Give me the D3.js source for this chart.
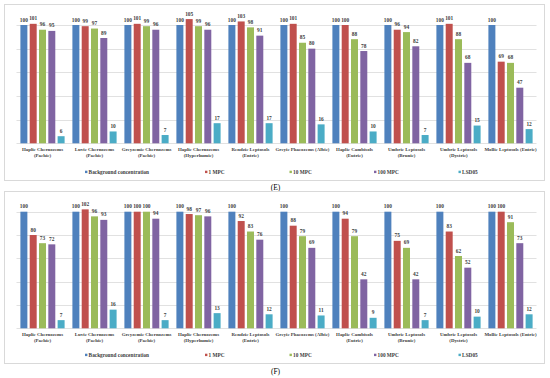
<!DOCTYPE html>
<html>
<head>
  <script src="https://d3js.org/d3.v7.min.js"></script>
  <style>
  body { margin: 0; background: #fff; }
  text { font-family: "Liberation Serif", "Times New Roman", serif; }
  </style>
</head>
<body>
  <script>
  var w = 550;
  var h = 378;

  //Soil types (category axis), same in both panels
  var soils = [
    ["Haplic Chernozems", "(Pachic)"],
    ["Luvic Chernozems", "(Pachic)"],
    ["Greyzemic Chernozems", "(Pachic)"],
    ["Haplic Chernozems", "(Hyperhumic)"],
    ["Rendzic Leptosols", "(Entric)"],
    ["Greyic Phaeozems (Albic)"],
    ["Haplic Cambisols", "(Eutric)"],
    ["Umbric Leptosols", "(Brunic)"],
    ["Umbric Leptosols", "(Dystric)"],
    ["Mollic Leptosols (Entric)"]
  ];

  var seriesNames = ["Background concentration", "1 MPC", "10 MPC", "100 MPC", "LSD05"];
  var colors = ["#4f81bd", "#c0504d", "#9bbb59", "#8064a2", "#4bacc6"];
  var gridTicks = [0, 20, 40, 60, 80, 100];

  //Panel (E)
  var backgroundE = [100, 100, 100, 100, 100, 100, 100, 100, 100, 100];
  var mpc1E   = [101, 99, 101, 105, 103, 101, 100, 96, 101, 69];
  var mpc10E  = [96, 97, 99, 99, 98, 85, 88, 94, 88, 68];
  var mpc100E = [95, 89, 96, 96, 91, 80, 78, 82, 68, 47];
  var lsdE    = [6, 10, 7, 17, 17, 16, 10, 7, 15, 12];

  //Panel (F)
  var backgroundF = [100, 100, 100, 100, 100, 100, 100, 100, 100, 100];
  var mpc1F   = [80, 102, 100, 98, 92, 88, 94, 75, 83, 100];
  var mpc10F  = [73, 96, 100, 97, 83, 79, 79, 69, 62, 91];
  var mpc100F = [72, 93, 94, 96, 76, 69, 42, 42, 52, 73];
  var lsdF    = [7, 16, 7, 13, 12, 11, 9, 7, 10, 12];

  var svg = d3.select("body")
    .append("svg")
    .attr("width", w)
    .attr("height", h);

  //Category scale shared by both panels
  var x0 = d3.scaleBand()
    .domain(d3.range(soils.length))
    .range([16.5, 536.5])
    .paddingInner(0.15)
    .paddingOuter(0.075);

  var x1 = d3.scaleBand()
    .domain(d3.range(seriesNames.length))
    .range([0, x0.bandwidth()])
    .paddingInner(0.25);

  drawPanel({
    top: 4, bottom: 180, base: 143.3, full: 25,
    series: [backgroundE, mpc1E, mpc10E, mpc100E, lsdE],
    tag: "(E)", tagY: 190
  });
  drawPanel({
    top: 191, bottom: 363, base: 328.3, full: 211.7,
    series: [backgroundF, mpc1F, mpc10F, mpc100F, lsdF],
    tag: "(F)", tagY: 374
  });

  //Draw one panel: frame, grid, bars, labels and legend
  function drawPanel(p){
    var g = svg.append("g");

    g.append("rect")
      .attr("x", 4.5)
      .attr("y", p.top + 0.5)
      .attr("width", 540)
      .attr("height", p.bottom - p.top)
      .attr("fill", "#fff")
      .attr("stroke", "#d9d9d9")
      .attr("stroke-width", 1);

    var y = d3.scaleLinear()
      .domain([0, 100])
      .range([p.base, p.full]);

    //Gridlines
    g.append("g")
      .selectAll("line")
      .data(gridTicks)
      .enter()
      .append("line")
        .attr("x1", x0.range()[0])
        .attr("x2", x0.range()[1])
        .attr("y1", function(d){ return Math.round(y(d)) + 0.5; })
        .attr("y2", function(d){ return Math.round(y(d)) + 0.5; })
        .attr("stroke", "#d9d9d9")
        .attr("stroke-width", 0.8);

    //Flatten to one record per bar
    var bars = [];
    p.series.forEach(function(vals, s){
      vals.forEach(function(v, c){
        bars.push({ s: s, c: c, v: v });
      });
    });

    g.append("g")
      .selectAll("rect")
      .data(bars)
      .enter()
      .append("rect")
        .attr("x", function(d){ return x0(d.c) + x1(d.s); })
        .attr("y", function(d){ return y(d.v); })
        .attr("width", x1.bandwidth())
        .attr("height", function(d){ return y(0) - y(d.v); })
        .attr("fill", function(d){ return colors[d.s]; });

    //Value labels
    g.append("g")
      .selectAll("text")
      .data(bars)
      .enter()
      .append("text")
        .attr("x", function(d){ return x0(d.c) + x1(d.s) + x1.bandwidth() / 2; })
        .attr("y", function(d){ return y(d.v) - 3.5; })
        .attr("text-anchor", "middle")
        .attr("font-size", "5.4px")
        .attr("font-weight", "bold")
        .attr("fill", "#404040")
        .text(function(d){ return d.v; });

    //Category labels
    var cat = g.append("g")
      .selectAll("text")
      .data(soils)
      .enter()
      .append("text")
        .attr("x", function(d, i){ return x0(i) + x0.bandwidth() / 2; })
        .attr("y", p.base + 7.5)
        .attr("text-anchor", "middle")
        .attr("font-size", "4.9px")
        .attr("font-weight", "bold")
        .attr("fill", "#404040");
    cat.selectAll("tspan")
      .data(function(d){ return d; })
      .enter()
      .append("tspan")
        .attr("x", function(){ return d3.select(this.parentNode).attr("x"); })
        .attr("dy", function(d, i){ return i ? 6 : 0; })
        .text(function(d){ return d; });

    //Legend
    var legY = p.bottom - 6.5;
    var leg = g.append("g")
      .selectAll("g")
      .data(seriesNames)
      .enter()
      .append("g")
        .attr("transform", function(d, i){
          var lx = i === 0 ? 85 : 205 + (i - 1) * 84.5;
          return "translate(" + lx + "," + legY + ")";
        });
    leg.append("rect")
      .attr("x", 0)
      .attr("y", -2.8)
      .attr("width", 2.4)
      .attr("height", 2.4)
      .attr("fill", function(d, i){ return colors[i]; });
    leg.append("text")
      .attr("x", 3.6)
      .attr("y", 0)
      .attr("font-size", "5.3px")
      .attr("font-weight", "bold")
      .attr("fill", "#404040")
      .text(function(d){ return d; });

    //Panel tag
    svg.append("text")
      .attr("x", 275.5)
      .attr("y", p.tagY)
      .attr("text-anchor", "middle")
      .attr("font-size", "7.5px")
      .attr("fill", "#000")
      .text(p.tag);
  }
  </script>
</body>
</html>
